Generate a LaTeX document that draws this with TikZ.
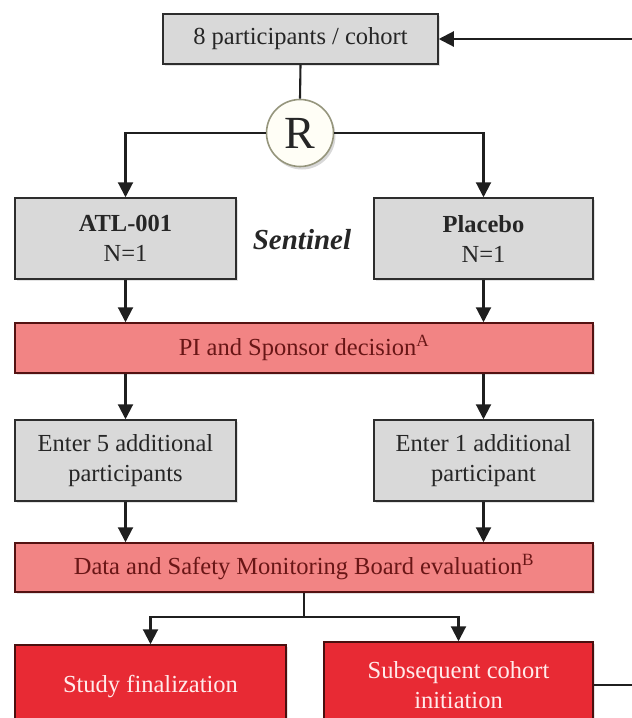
\documentclass[tikz,border=0pt]{standalone}
\usepackage{fontspec}
\setmainfont{Liberation Serif}
\usetikzlibrary{arrows.meta,shadows}
\definecolor{boxgrey}{RGB}{217,217,217}
\definecolor{salmon}{RGB}{242,132,132}
\definecolor{deepred}{RGB}{232,42,52}
\definecolor{txtred}{RGB}{105,22,22}
\definecolor{edge}{RGB}{45,45,45}
\definecolor{cream}{RGB}{255,254,246}
\definecolor{olive}{RGB}{150,150,125}
\begin{document}
\begin{tikzpicture}[x=1pt,y=-1pt,
  shadowed/.style={drop shadow={opacity=0.22,shadow xshift=2pt,shadow yshift=-2pt}},
  greybox/.style={draw=edge,line width=1.5pt,fill=boxgrey,inner sep=0pt,align=center,
    font=\fontsize{24.5}{30}\selectfont,text=black!85,shadowed},
  salmonbar/.style={draw=txtred!80!black,line width=1.5pt,fill=salmon,inner sep=0pt,align=center,
    font=\fontsize{24.5}{30}\selectfont,text=txtred,shadowed},
  redbox/.style={draw=txtred!70!black,line width=1.5pt,fill=deepred,inner sep=0pt,align=center,
    font=\fontsize{24.5}{30}\selectfont,text=white!92!red,shadowed},
  conn/.style={draw=black!88,line width=2.1pt},
  arr/.style={conn,-{Triangle[width=15pt,length=15pt]}}]
\useasboundingbox (0,0) rectangle (632,718);
\clip (0,0) rectangle (632,718);
\fill[white] (0,0) rectangle (632,718);

\node[greybox,minimum width=275pt,minimum height=50pt] (top) at (300.5,39) {8 participants / cohort};
\node[circle,draw=olive,line width=1.6pt,fill=cream,minimum size=67pt,inner sep=0pt,
  font=\fontsize{46}{46}\selectfont,text=black!85,
  drop shadow={opacity=0.3,shadow xshift=2pt,shadow yshift=-3pt}] (R) at (300,133) {R};

\node[greybox,minimum width=221pt,minimum height=81pt] (atl) at (125.5,238.5) {\textbf{ATL-001}\\N=1};
\node[greybox,minimum width=219pt,minimum height=81pt] (plc) at (483.5,238.5) {\textbf{Placebo}\\N=1};
\node[font=\fontsize{29}{30}\selectfont\bfseries\itshape,text=black!85] (sent) at (302,240) {Sentinel};

\node[salmonbar,minimum width=578pt,minimum height=50pt] (pi) at (304,348) {PI and Sponsor decision\textsuperscript{A}};

\node[greybox,minimum width=221pt,minimum height=81pt] (e5) at (125.5,460.5) {Enter 5 additional\\participants};
\node[greybox,minimum width=219pt,minimum height=81pt] (e1) at (483.5,460.5) {Enter 1 additional\\participant};

\node[salmonbar,minimum width=578pt,minimum height=49pt] (dsmb) at (304,567.5) {Data and Safety Monitoring Board evaluation\textsuperscript{B}};

\node[redbox,minimum width=271pt,minimum height=83pt] (sf) at (150.5,686.5) {Study finalization};
\node[redbox,minimum width=269pt,minimum height=86pt] (sc) at (458.5,685) {Subsequent cohort\\initiation};

\coordinate (split) at (304,617);
\coordinate (fbout) at (632,685);
\coordinate (fbin) at (632,39);

\draw[conn] (top.south) -- (R.north);
\draw[arr] (R.west) -| (atl.north);
\draw[arr] (R.east) -| (plc.north);
\draw[arr] (atl.south) -- (atl.south |- pi.north);
\draw[arr] (plc.south) -- (plc.south |- pi.north);
\draw[arr] (e5.north |- pi.south) -- (e5.north);
\draw[arr] (e1.north |- pi.south) -- (e1.north);
\draw[arr] (e5.south) -- (e5.south |- dsmb.north);
\draw[arr] (e1.south) -- (e1.south |- dsmb.north);
\draw[conn] (dsmb.south) -- (split);
\draw[arr] (split) -| (sf.north);
\draw[arr] (split) -| (sc.north);
\draw[conn] (sc.east) -- (fbout);
\draw[arr] (fbin) -- (top.east);
\end{tikzpicture}
\end{document}
